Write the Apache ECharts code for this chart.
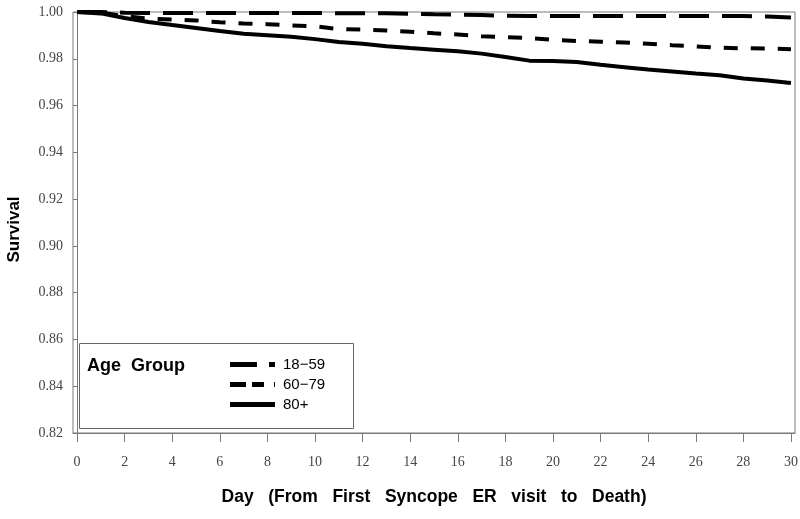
<!DOCTYPE html>
<html>
<head>
<meta charset="utf-8">
<script src="https://cdn.jsdelivr.net/npm/echarts@6/dist/echarts.min.js"></script>
<style>html,body{margin:0;padding:0;background:#fff}#c{width:800px;height:519px}</style>
</head>
<body>
<div id="c"></div>
<script>
var days = [0,1,2,3,4,5,6,7,8,9,10,11,12,13,14,15,16,17,18,19,20,21,22,23,24,25,26,27,28,29,30];
var age18_59 = [1.0000,1.0000,0.9997,0.9996,0.9996,0.9996,0.9996,0.9996,0.9996,0.9996,0.9996,0.9995,0.9995,0.9995,0.9992,0.9990,0.9989,0.9987,0.9984,0.9983,0.9983,0.9983,0.9983,0.9983,0.9983,0.9983,0.9983,0.9983,0.9983,0.9981,0.9976];
var age60_79 = [1.0000,0.9998,0.9982,0.9972,0.9968,0.9964,0.9956,0.9951,0.9948,0.9943,0.9939,0.9927,0.9925,0.9921,0.9916,0.9909,0.9904,0.9896,0.9893,0.9888,0.9881,0.9876,0.9873,0.9870,0.9864,0.9858,0.9853,0.9847,0.9845,0.9844,0.9841];
var age80p = [1.0000,0.9994,0.9974,0.9957,0.9944,0.9932,0.9919,0.9907,0.9901,0.9894,0.9884,0.9872,0.9864,0.9854,0.9846,0.9839,0.9832,0.9822,0.9808,0.9792,0.9790,0.9786,0.9774,0.9764,0.9754,0.9746,0.9737,0.9730,0.9716,0.9707,0.9696];
var xTicks = [0,2,4,6,8,10,12,14,16,18,20,22,24,26,28,30];
var groupNames = ['18\u221259','60\u221279','80+'];

function pairs(vals){ return days.map(function(d,i){ return [d, vals[i]]; }); }

var chart = echarts.init(document.getElementById('c'), null, {renderer:'canvas'});
var axisGrey = '#7a7a7a';
var labelFont = 'Liberation Serif';
var option = {
  animation: false,
  backgroundColor: '#fff',
  grid: {left: 73, right: 5, top: 12, bottom: 86, containLabel: false, outerBoundsMode: 'none', show: true, borderColor: axisGrey, borderWidth: 1, backgroundColor: 'transparent'},
  title: {text: 'Age  Group', left: 82, top: 352, textStyle: {fontFamily: 'Liberation Sans', fontWeight: 'bold', fontSize: 18, color: '#000'}},
  legend: {
    orient: 'vertical', left: 230, top: 357, padding: 0, itemWidth: 45, itemHeight: 5, itemGap: 5,
    textStyle: {fontFamily: 'Liberation Sans', fontSize: 15, color: '#000', padding: [0,0,0,3]},
    data: [
      {name: groupNames[0], icon: 'path://M0,0H27V5H0Z M39,0H45V5H39Z'},
      {name: groupNames[1], icon: 'path://M0,0H16V5H0Z M22,0H34V5H22Z M44,0H45V5H44Z'},
      {name: groupNames[2], icon: 'path://M0,0H45V5H0Z'}
    ],
    itemStyle: {color: '#000'}
  },
  graphic: [{type: 'rect', left: 77, top: 341, shape: {width: 274, height: 85}, style: {fill: 'none', stroke: '#666', lineWidth: 1}, z: 10}],
  xAxis: {
    type: 'value', min: -0.17, max: 30.17,
    name: 'Day   (From   First   Syncope   ER   visit   to   Death)', nameLocation: 'middle', nameGap: 55,
    nameTextStyle: {fontFamily: 'Liberation Sans', fontWeight: 'bold', fontSize: 17.5, color: '#000'},
    axisLine: {show: true, onZero: false, lineStyle: {color: axisGrey, width: 1}},
    axisTick: {show: true, length: 9, customValues: xTicks, lineStyle: {color: axisGrey}},
    axisLabel: {customValues: xTicks, margin: 22, fontFamily: labelFont, fontSize: 14, color: '#444'},
    splitLine: {show: false}
  },
  yAxis: {
    type: 'value', min: 0.82, max: 1.0, interval: 0.02,
    name: 'Survival', nameLocation: 'middle', nameGap: 50,
    nameTextStyle: {fontFamily: 'Liberation Sans', fontWeight: 'bold', fontSize: 17, color: '#000', padding: [0,14,0,0]},
    axisLine: {show: true, lineStyle: {color: axisGrey, width: 1}},
    axisTick: {show: true, length: 4, lineStyle: {color: axisGrey}},
    axisLabel: {margin: 10, fontFamily: labelFont, fontSize: 14, color: '#444', formatter: function(v){ return v.toFixed(2); }},
    splitLine: {show: false}
  },
  series: [
    {name: groupNames[0], type: 'line', symbol: 'none', data: pairs(age18_59), lineStyle: {color: '#000', width: 4, type: [30,13], cap: 'butt'}, itemStyle: {color: '#000'}, z: 3},
    {name: groupNames[1], type: 'line', symbol: 'none', data: pairs(age60_79), lineStyle: {color: '#000', width: 4, type: [14,13], cap: 'butt'}, itemStyle: {color: '#000'}, z: 3},
    {name: groupNames[2], type: 'line', symbol: 'none', data: pairs(age80p), lineStyle: {color: '#000', width: 4}, itemStyle: {color: '#000'}, z: 3}
  ]
};
chart.setOption(option);
</script>
</body>
</html>
